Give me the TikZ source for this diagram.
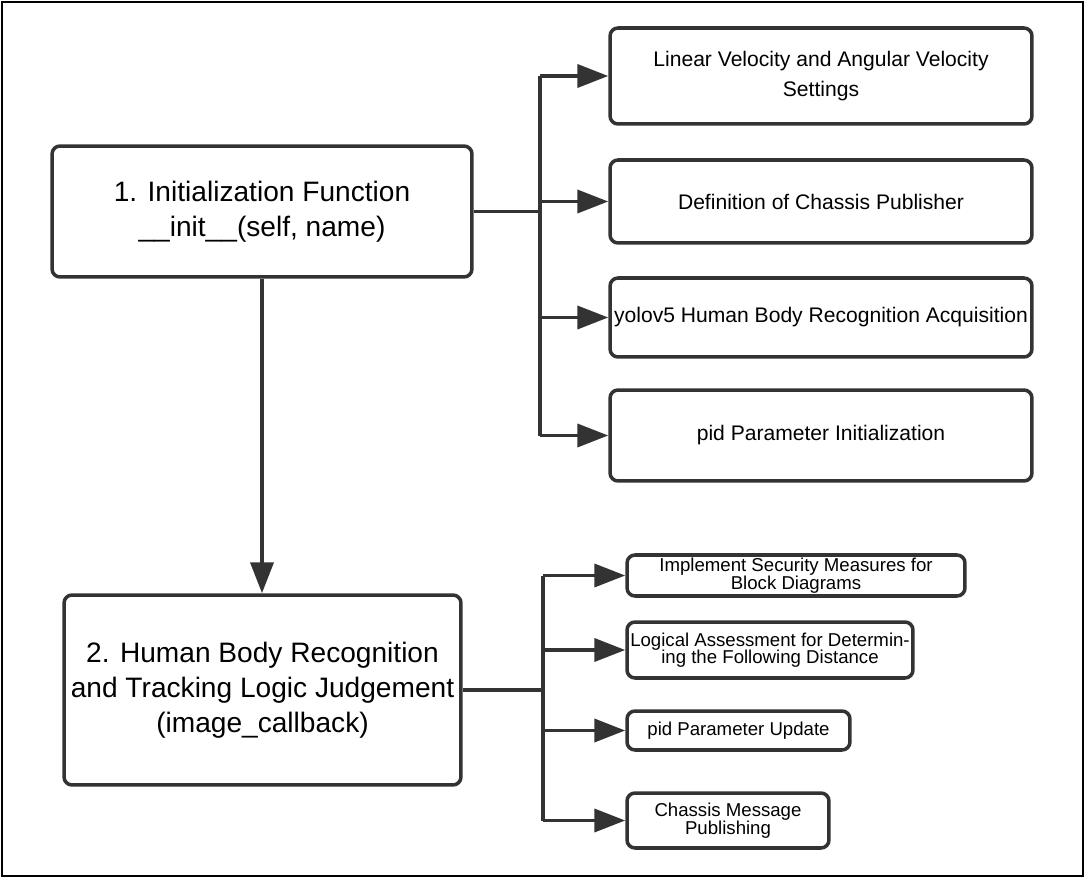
\documentclass[tikz,border=0pt]{standalone}
\usepackage{fontspec}
\setmainfont{Liberation Sans}
\usetikzlibrary{arrows.meta}
\definecolor{linegray}{RGB}{51,51,51}

\begin{document}
\begin{tikzpicture}[x=0.02cm, y=-0.02cm,
    box/.style={draw=linegray, line width=2pt, rounded corners=0.16cm, align=center, inner sep=1pt},
    bigtext/.style={font=\fontsize{16}{20}\selectfont},
    midtext/.style={font=\fontsize{12}{17}\selectfont},
    smalltext/.style={font=\fontsize{10.6}{10}\selectfont},
    link/.style={draw=linegray, line width=2.2pt},
    arr/.style={link, -{Triangle[length=0.62cm, width=0.46cm]}}]
  \useasboundingbox (0,0) rectangle (1085,878);
  \draw[black, line width=1.3pt] (2,2) rectangle (1083,876);
  % Left: the two main functions
  \node[box, bigtext, minimum width=8.4cm, minimum height=2.62cm] (init) at (262,211.5)
    {1. Initialization Function\\\_\_init\_\_(self, name)};
  \node[box, bigtext, minimum width=7.94cm, minimum height=3.8cm] (track) at (262.5,690)
    {2. Human Body Recognition\\and Tracking Logic Judgement\\(image\_callback)};
  \draw[arr] (init.south) -- (init.south |- track.north);
  % Right top: initialization steps
  \node[box, midtext, minimum width=8.44cm, minimum height=1.92cm] (speed) at (821,76)
    {Linear Velocity and Angular Velocity\\Settings};
  \node[box, midtext, minimum width=8.44cm, minimum height=1.66cm] (chassis) at (821,201.5)
    {Definition of Chassis Publisher};
  \node[box, midtext, minimum width=8.44cm, minimum height=1.58cm] (yolo) at (821,317.5)
    {yolov5 Human Body Recognition Acquisition};
  \node[box, midtext, minimum width=8.44cm, minimum height=1.82cm] (pidinit) at (821,435.5)
    {pid Parameter Initialization};
  \coordinate (topbus) at (540,211.5);
  \draw[link] (init.east) -- (topbus);
  \draw[link] (topbus |- speed.west) -- (topbus |- pidinit.west);
  \foreach \n in {speed, chassis, yolo, pidinit}
    \draw[arr] (topbus |- \n.west) -- (\n.west);
  % Right bottom: tracking steps
  \node[box, smalltext, minimum width=6.76cm, minimum height=0.82cm] (safety) at (796,575.5)
    {Implement Security Measures for\\Block Diagrams};
  \node[box, smalltext, minimum width=5.72cm, minimum height=1.12cm] (distance) at (770,650)
    {Logical Assessment for Determin-\\ing the Following Distance};
  \node[box, smalltext, minimum width=4.46cm, minimum height=0.78cm] (pidupd) at (738.5,730.5)
    {pid Parameter Update};
  \node[box, smalltext, minimum width=4.04cm, minimum height=1.1cm] (publish) at (728,820.5)
    {Chassis Message\\Publishing};
  \coordinate (lowbus) at (543,690);
  \draw[link] (track.east) -- (lowbus);
  \draw[link] (lowbus |- safety.west) -- (lowbus |- publish.west);
  \foreach \n in {safety, distance, pidupd, publish}
    \draw[arr] (lowbus |- \n.west) -- (\n.west);
\end{tikzpicture}
\end{document}
